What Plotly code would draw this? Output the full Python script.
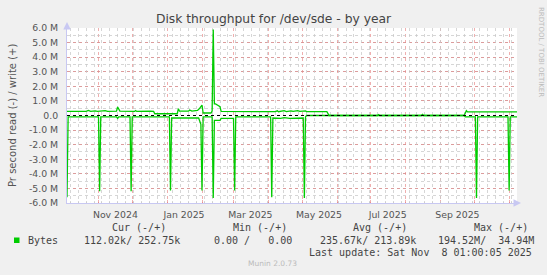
import plotly.graph_objects as go

# ---------------- data ----------------
write_dates = [
    "2024-10-04", "2024-10-21", "2024-10-23", "2024-10-25", "2024-10-29", "2024-10-31",
    "2024-11-07", "2024-11-09", "2024-11-17", "2024-11-18", "2024-11-20", "2024-12-03",
    "2024-12-04", "2024-12-05", "2024-12-17", "2024-12-20", "2024-12-21", "2025-01-10",
    "2025-01-11", "2025-01-12", "2025-01-20", "2025-01-21", "2025-01-23", "2025-01-28",
    "2025-01-30", "2025-02-01", "2025-02-02", "2025-02-09", "2025-02-10", "2025-02-11",
    "2025-02-12", "2025-02-13", "2025-02-15", "2025-02-17", "2025-02-18", "2025-04-07",
    "2025-04-09", "2025-04-10", "2025-04-15", "2025-04-17", "2025-04-21", "2025-04-23",
    "2025-04-27", "2025-04-29", "2025-05-04", "2025-05-05", "2025-05-23", "2025-05-24",
    "2025-05-25", "2025-07-07", "2025-07-08", "2025-07-09", "2025-08-15", "2025-08-16",
    "2025-08-17", "2025-09-22", "2025-09-23", "2025-09-24", "2025-09-25", "2025-11-08",
]
write_vals = [
    0.28e6, 0.28e6, 0.35e6, 0.28e6, 0.32e6, 0.28e6,
    0.33e6, 0.28e6, 0.30e6, 0.58e6, 0.30e6, 0.28e6,
    0.34e6, 0.28e6, 0.30e6, 0.28e6, 0.12e6, 0.12e6,
    0.47e6, 0.30e6, 0.30e6, 0.38e6, 0.30e6, 0.35e6,
    0.50e6, 0.72e6, 0.17e6, 0.17e6, 0.30e6, 5.90e6,
    0.80e6, 0.80e6, 0.70e6, 0.60e6, 0.28e6, 0.26e6,
    0.32e6, 0.26e6, 0.33e6, 0.27e6, 0.32e6, 0.28e6,
    0.33e6, 0.28e6, 0.32e6, 0.27e6, 0.26e6, 0.10e6,
    0.0, 0.0, 0.06e6, 0.0, 0.0, 0.07e6,
    0.0, 0.0, 0.15e6, 0.33e6, 0.25e6, 0.25e6,
]

read_dates = [
    "2024-10-04", "2024-10-05", "2024-11-01", "2024-11-02", "2024-11-03", "2024-11-17",
    "2024-11-18", "2024-11-19", "2024-11-29", "2024-11-30", "2024-12-01", "2025-01-03",
    "2025-01-04", "2025-01-05", "2025-01-29", "2025-01-31", "2025-02-01", "2025-02-02",
    "2025-02-10", "2025-02-11", "2025-02-12", "2025-02-17", "2025-02-18", "2025-03-01",
    "2025-03-02", "2025-03-03", "2025-04-03", "2025-04-04", "2025-04-05", "2025-04-12",
    "2025-04-15", "2025-04-20", "2025-05-02", "2025-05-03", "2025-05-04", "2025-05-05",
    "2025-09-22", "2025-09-23", "2025-10-02", "2025-10-03", "2025-10-04", "2025-10-31",
    "2025-11-01", "2025-11-02", "2025-11-08",
]
read_vals = [
    5.60e6, 0.10e6, 0.10e6, 5.20e6, 0.10e6, 0.10e6,
    0.20e6, 0.10e6, 0.10e6, 5.20e6, 0.10e6, 0.10e6,
    5.15e6, 0.17e6, 0.17e6, 0.60e6, 5.15e6, 0.10e6,
    0.10e6, 5.66e6, 0.33e6, 0.33e6, 0.20e6, 0.20e6,
    5.15e6, 0.10e6, 0.10e6, 5.60e6, 0.17e6, 0.20e6,
    0.15e6, 0.20e6, 0.17e6, 5.66e6, 0.10e6, 0.0,
    0.0, 0.10e6, 0.10e6, 5.66e6, 0.10e6, 0.10e6,
    5.15e6, 0.10e6, 0.10e6,
]

x_range = ["2024-10-04", "2025-11-08"]
x_label_dates = ["2024-11-16", "2025-01-16", "2025-03-16", "2025-05-16", "2025-07-16", "2025-09-16"]
x_label_text = ["Nov 2024", "Jan 2025", "Mar 2025", "May 2025", "Jul 2025", "Sep 2025"]

y_tick_vals = [6e6, 5e6, 4e6, 3e6, 2e6, 1e6, 0, -1e6, -2e6, -3e6, -4e6, -5e6, -6e6]
y_tick_text = ["6.0 M", "5.0 M", "4.0 M", "3.0 M", "2.0 M", "1.0 M", "0.0",
               "-1.0 M", "-2.0 M", "-3.0 M", "-4.0 M", "-5.0 M", "-6.0 M"]

title_text = "Disk throughput for /dev/sde - by year"
y_title = "Pr second read (-) / write (+)"
series_name = "Bytes"
legend_headers = ["Cur (-/+)", "Min (-/+)", "Avg (-/+)", "Max (-/+)"]
legend_values = ["112.02k/ 252.75k", "0.00 /   0.00", "235.67k/ 213.89k", "194.52M/  34.94M"]
last_update = "Last update: Sat Nov  8 01:00:05 2025"
munin_version = "Munin 2.0.73"
side_text = "RRDTOOL / TOBI OETIKER"

# ---------------- layout helpers ----------------
W, H = 547, 275
L, R, T, B = 67, 517, 28, 203
def PX(x):
    return (x - L) / (R - L)
def PY(y):
    return (B - y) / (B - T)

GREEN = "#00CC00"
RED_GRID = "rgba(225,110,110,0.55)"
GREY_GRID = "rgba(200,200,200,0.75)"
AXIS_COL = "#C8C8F2"
TXT = "#555555"
MONO = "DejaVu Sans Mono"
SANS = "DejaVu Sans"

def nb(s):
    return s.replace(" ", "\u00a0")

fig = go.Figure()
fig.add_trace(go.Scatter(x=write_dates, y=write_vals, mode="lines",
                         line=dict(color=GREEN, width=1.3), hoverinfo="skip", showlegend=False))
fig.add_trace(go.Scatter(x=read_dates, y=[-v for v in read_vals], mode="lines",
                         line=dict(color=GREEN, width=1.3), hoverinfo="skip", showlegend=False))
# weekly minor grid on overlaid axis
fig.add_trace(go.Scatter(x=[], y=[], xaxis="x2", yaxis="y", showlegend=False, hoverinfo="skip"))

fig.update_layout(
    width=W, height=H,
    margin=dict(l=L, r=W - R, t=T, b=H - B, pad=0),
    paper_bgcolor="#F0F0F0", plot_bgcolor="#FFFFFF",
    showlegend=False,
    title=dict(text=title_text, x=0.5, xref="container", xanchor="center",
               y=1 - 19 / H, yref="container", yanchor="middle",
               font=dict(family=SANS, size=12.3, color="#444444")),
    xaxis=dict(type="date", range=x_range, tickmode="array",
               tickvals=x_label_dates, ticktext=x_label_text,
               showgrid=False, zeroline=False, ticks="",
               showline=True, linecolor=AXIS_COL, linewidth=1,
               tickfont=dict(family=SANS, size=9.33, color=TXT),
               ticklabelstandoff=3,
               minor=dict(dtick="M1", tick0="2024-11-01", showgrid=True,
                          gridcolor=RED_GRID, griddash="dot", gridwidth=1,
                          ticks="inside", ticklen=3, tickcolor=RED_GRID)),
    xaxis2=dict(type="date", range=x_range, overlaying="x", anchor="y", side="bottom",
                dtick=7 * 86400000, tick0="2024-10-07",
                showgrid=True, gridcolor=GREY_GRID, griddash="dot", gridwidth=1,
                showticklabels=False, ticks="inside", ticklen=2, tickcolor=GREY_GRID,
                zeroline=False, showline=False),
    yaxis=dict(range=[-6e6, 6e6], tickmode="array", tickvals=y_tick_vals, ticktext=y_tick_text,
               showgrid=True, gridcolor=RED_GRID, griddash="dot", gridwidth=1,
               zeroline=False, ticks="", showline=True, linecolor=AXIS_COL, linewidth=1,
               tickfont=dict(family=SANS, size=9.33, color=TXT),
               ticklabelstandoff=6,
               minor=dict(dtick=5e5, tick0=0, showgrid=True, gridcolor=GREY_GRID,
                          griddash="dot", gridwidth=1)),
)

shapes = [
    # zero rule
    dict(type="line", xref="paper", x0=0, x1=1, yref="y", y0=0, y1=0,
         line=dict(color="#000000", width=1.2, dash="dot"), layer="above"),
    # legend colour box
    dict(type="rect", xref="paper", yref="paper", x0=PX(14), x1=PX(19.5), y0=PY(243), y1=PY(237.5),
         fillcolor=GREEN, line=dict(width=0)),
]
fig.update_layout(shapes=shapes)

ann = []
# axis arrows
ann.append(dict(xref="paper", yref="paper", x=PX(521), y=PY(203), ax=-6, ay=0, text="",
                showarrow=True, arrowhead=2, arrowsize=1, arrowwidth=1.5, arrowcolor=AXIS_COL))
ann.append(dict(xref="paper", yref="paper", x=PX(67), y=PY(22), ax=0, ay=6, text="",
                showarrow=True, arrowhead=2, arrowsize=1, arrowwidth=1.5, arrowcolor=AXIS_COL))
# y-axis title
ann.append(dict(xref="paper", yref="paper", x=PX(12), y=PY(116), text=y_title, textangle=-90,
                showarrow=False, xanchor="center", yanchor="middle",
                font=dict(family=SANS, size=10, color=TXT)))
# side text
ann.append(dict(xref="paper", yref="paper", x=PX(541), y=PY(5), text=side_text, textangle=90,
                showarrow=False, xanchor="center", yanchor="top",
                font=dict(family=SANS, size=7, color="#BBBBBB")))
# legend table
header_x = [111, 232, 351.7, 472.7]
value_x = [83.3, 213.3, 319, 436.7]
for hx, h in zip(header_x, legend_headers):
    ann.append(dict(xref="paper", yref="paper", x=PX(hx), y=PY(227.3), text=nb(h), showarrow=False,
                    xanchor="left", yanchor="middle", borderpad=0,
                    font=dict(family=MONO, size=10, color="#444444")))
for vx, v in zip(value_x, legend_values):
    ann.append(dict(xref="paper", yref="paper", x=PX(vx), y=PY(240), text=nb(v), showarrow=False,
                    xanchor="left", yanchor="middle", borderpad=0,
                    font=dict(family=MONO, size=10, color="#444444")))
ann.append(dict(xref="paper", yref="paper", x=PX(26.7), y=PY(240), text=series_name, showarrow=False,
                xanchor="left", yanchor="middle", borderpad=0,
                font=dict(family=MONO, size=10, color="#444444")))
ann.append(dict(xref="paper", yref="paper", x=PX(533.3), y=PY(252.3), text=nb(last_update),
                showarrow=False, xanchor="right", yanchor="middle", borderpad=0,
                font=dict(family=MONO, size=10, color="#444444")))
ann.append(dict(xref="paper", yref="paper", x=PX(272.8), y=PY(263.3), text=munin_version,
                showarrow=False, xanchor="center", yanchor="middle", borderpad=0,
                font=dict(family=SANS, size=7.5, color="#BBBBBB")))
fig.update_layout(annotations=ann)

fig.write_html("out.html")
